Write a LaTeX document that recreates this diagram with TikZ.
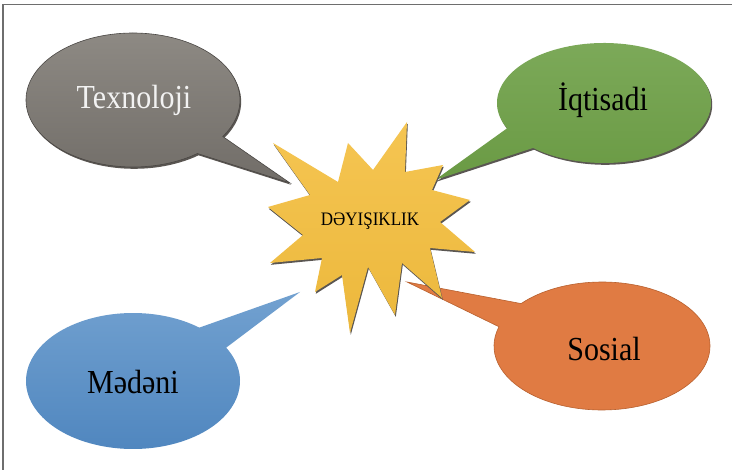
\documentclass[tikz,border=0pt]{standalone}
\usepackage{fontspec}
\usepackage{graphicx}
\setmainfont{Liberation Serif}

\definecolor{framecol}{HTML}{6E6E6E}
\definecolor{grayTop}{HTML}{8F8B85}
\definecolor{grayBot}{HTML}{716D68}
\definecolor{grayLine}{HTML}{4A4744}
\definecolor{greenTop}{HTML}{7DAA5A}
\definecolor{greenBot}{HTML}{6A9A44}
\definecolor{orangeFill}{HTML}{E07B43}
\definecolor{orangeLine}{HTML}{B8602E}
\definecolor{blueTop}{HTML}{72A1D0}
\definecolor{blueBot}{HTML}{4E85BE}
\definecolor{starTop}{HTML}{F5C552}
\definecolor{starBot}{HTML}{ECB83C}
\definecolor{shadowcol}{HTML}{5A5652}
\definecolor{lightText}{HTML}{F2F2F2}

% speech balloon: style, cx, cy, rx, ry, base angle 1, base angle 2, tip x, tip y
\newcommand\balloon[9]{%
  \path[#1] ([shift={(#6:#4 and #5)}]#2,#3) -- (#8,#9)
    -- ([shift={(#7:#4 and #5)}]#2,#3)
    arc[start angle=#7, end angle={#6+360}, x radius=#4, y radius=#5] -- cycle;}
% slightly tall lettering
\newcommand\tall[1]{\scalebox{1}[1.12]{#1}}

\begin{document}
\begin{tikzpicture}[x=1pt,y=-1pt,
  lbl/.style={font=\fontsize{30}{36}\selectfont, inner sep=0pt},
  starlbl/.style={font=\fontsize{17}{20}\selectfont, inner sep=0pt},
  drop/.style={fill=shadowcol, xshift=1.2pt, yshift=-1.8pt}]
\useasboundingbox (0,0) rectangle (732,470);
\fill[white] (0,0) rectangle (732,470);
\draw[framecol, line width=1.3pt] (3,470) -- (3,4.5) -- (732,4.5);

% Texnoloji balloon (upper left)
\balloon{drop}{133}{100}{107}{67}{33}{53}{290}{183}
\balloon{top color=grayTop, bottom color=grayBot, draw=grayLine, line width=0.6pt}{133}{100}{107}{67}{33}{53}{290}{183}
\node[lbl, text=lightText] (tech) at (134,100) {\tall{Texnoloji}};

% İqtisadi balloon (upper right)
\balloon{drop}{604}{103}{107}{60}{131.5}{155}{435}{180}
\balloon{top color=greenTop, bottom color=greenBot}{604}{103}{107}{60}{131.5}{155}{435}{180}
\node[lbl] (econ) at (603,100) {\tall{İqtisadi}};

% Sosial balloon (lower right)
\balloon{fill=orangeFill, draw=orangeLine, line width=0.6pt}{602}{346}{108}{64}{197.5}{221.5}{407}{282}
\node[lbl] (social) at (604,349) {\tall{Sosial}};

% Mədəni balloon (lower left)
\balloon{top color=blueTop, bottom color=blueBot}{133}{381}{107}{68}{308.3}{330.6}{300}{292}
\node[lbl] (culture) at (133,382) {\tall{Mədəni}};

% central burst
\def\burst{(407,122) -- (405,172) -- (443,165) -- (432,190) -- (470,200)
  -- (440,222) -- (475,252) -- (430,248) -- (442,298) -- (402,263)
  -- (395,315) -- (368,267) -- (350,333) -- (342,275) -- (315,292)
  -- (322,258) -- (270,263) -- (303,235) -- (268,207) -- (310,195)
  -- (273,143) -- (338,182) -- (348,143) -- (373,170) -- cycle}
\fill[shadowcol, xshift=0.8pt, yshift=-1.8pt] \burst;
\shade[top color=starTop, bottom color=starBot] \burst;
\node[starlbl] (change) at (370,221) {\tall{DƏYIŞIKLIK}};
\end{tikzpicture}
\end{document}
